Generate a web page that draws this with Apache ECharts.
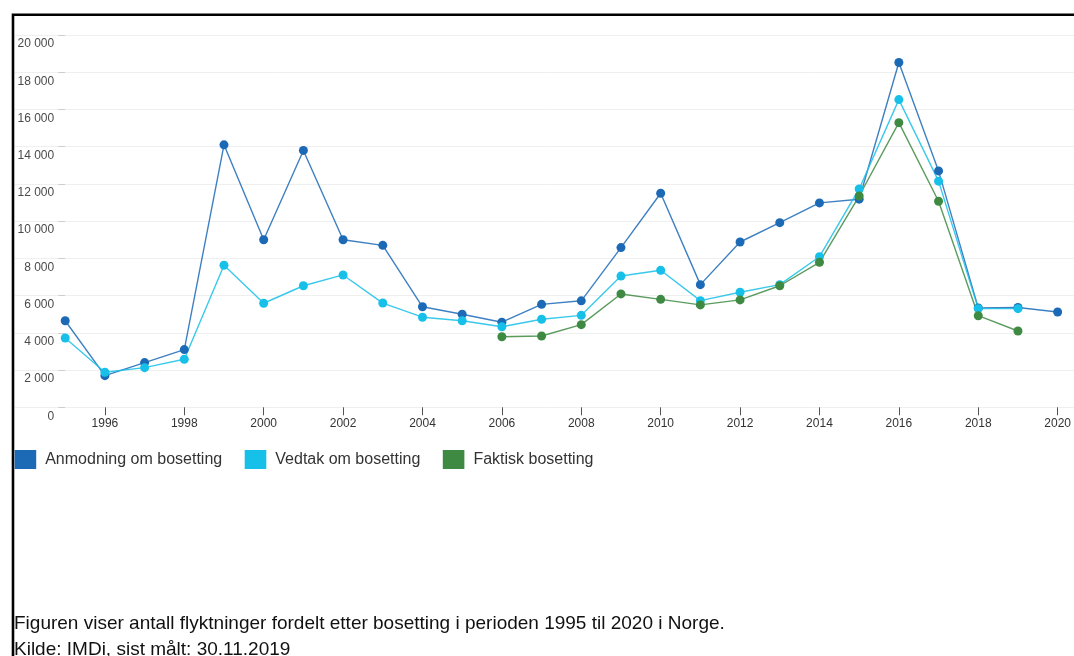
<!DOCTYPE html>
<html>
<head>
<meta charset="utf-8">
<script src="https://cdn.jsdelivr.net/npm/echarts@6/dist/echarts.min.js"></script>
<style>
  html, body { margin: 0; padding: 0; background: #fff; }
  #chart { width: 1074px; height: 656px; }
</style>
</head>
<body>
<div id="chart"></div>
<script>
// Årstall (x-akse)
const years = ['1995','1996','1997','1998','1999','2000','2001','2002','2003','2004','2005','2006','2007',
               '2008','2009','2010','2011','2012','2013','2014','2015','2016','2017','2018','2019','2020'];

// Antall personer per år
const anmodning = [4650, 1700, 2400, 3100, 14100, 9000, 13800, 9000, 8700, 5400, 5000, 4570, 5530,
                   5720, 8580, 11500, 6590, 8880, 9920, 10980, 11180, 18520, 12700, 5340, 5360, 5120];
const vedtak    = [3720, 1880, 2130, 2580, 7630, 5590, 6530, 7110, 5600, 4840, 4650, 4330, 4730,
                   4940, 7050, 7360, 5730, 6180, 6590, 8090, 11730, 16530, 12150, 5300, 5300, null];
const faktisk   = [null, null, null, null, null, null, null, null, null, null, null, 3790, 3830,
                   4440, 6090, 5800, 5500, 5770, 6530, 7790, 11350, 15290, 11070, 4920, 4100, null];

const seriesNames = ['Anmodning om bosetting', 'Vedtak om bosetting', 'Faktisk bosetting'];
const seriesColors = ['#1c6ab6', '#17c0e8', '#3e8a42'];

const yTicks = { min: 0, max: 20000, interval: 2000 };

const chart = echarts.init(document.getElementById('chart'), null, { renderer: 'canvas' });

function fmtThousands(v) {
  return String(v).replace(/\B(?=(\d{3})+(?!\d))/g, ' ');
}

function lineSeries(name, data, color) {
  return {
    name: name,
    type: 'line',
    xAxisIndex: 0,
    yAxisIndex: 0,
    data: data,
    symbol: 'circle',
    symbolSize: 9,
    showSymbol: true,
    connectNulls: false,
    itemStyle: { color: color },
    lineStyle: { color: color, width: 1.4, opacity: 0.85 },
    emphasis: { disabled: true },
    animation: false
  };
}

const option = {
  backgroundColor: '#ffffff',
  animation: false,
  textStyle: { fontFamily: 'Liberation Sans, Arial, sans-serif' },
  grid: [
    // plot area
    { left: 65.2, right: 13.7, top: 35, bottom: 248.7, containLabel: false },
    // wide band carrying the horizontal guide lines
    { left: 15, right: 0, top: 35, bottom: 248.7, containLabel: false }
  ],
  xAxis: [
    {
      gridIndex: 0,
      type: 'category',
      data: years,
      boundaryGap: false,
      axisLine: { show: false },
      axisTick: {
        show: true,
        length: 8,
        interval: (i) => i % 2 === 1,
        lineStyle: { color: '#555', width: 1 }
      },
      axisLabel: {
        interval: (i) => i % 2 === 1,
        color: '#333',
        fontSize: 12,
        margin: 10,
        fontFamily: 'Liberation Sans, Arial, sans-serif'
      },
      splitLine: { show: false }
    },
    {
      gridIndex: 1,
      type: 'value',
      show: false,
      min: 0,
      max: 1
    }
  ],
  yAxis: [
    {
      gridIndex: 0,
      type: 'value',
      min: yTicks.min,
      max: yTicks.max,
      interval: yTicks.interval,
      axisLine: { show: false },
      axisTick: { show: true, length: 7, lineStyle: { color: '#cfcfcf', width: 1 } },
      axisLabel: {
        color: '#4a4a4a',
        fontSize: 12,
        margin: 11,
        verticalAlign: 'top',
        padding: [3, 0, 0, 0],
        formatter: fmtThousands,
        fontFamily: 'Liberation Sans, Arial, sans-serif'
      },
      splitLine: { show: false }
    },
    {
      gridIndex: 1,
      type: 'value',
      min: yTicks.min,
      max: yTicks.max,
      interval: yTicks.interval,
      axisLine: { show: false },
      axisTick: { show: false },
      axisLabel: { show: false },
      splitLine: { show: true, lineStyle: { color: '#efefef', width: 1 } }
    }
  ],
  legend: {
    left: 14.6,
    top: 450,
    padding: 0,
    orient: 'horizontal',
    icon: 'rect',
    itemWidth: 21.6,
    itemHeight: 19,
    itemGap: 22.5,
    selectedMode: false,
    data: seriesNames.map((n, i) => ({ name: n, itemStyle: { color: seriesColors[i] } })),
    textStyle: {
      color: '#333',
      fontSize: 16,
      padding: [0, 0, 0, 4],
      fontFamily: 'Liberation Sans, Arial, sans-serif'
    }
  },
  graphic: [
    {
      type: 'polyline',
      silent: true,
      shape: { points: [[13, 660], [13, 14.7], [1080, 14.7]] },
      style: { stroke: '#000', lineWidth: 2.6, fill: null }
    },
    {
      type: 'text',
      left: 14,
      top: 614,
      silent: true,
      style: {
        text: 'Figuren viser antall flyktninger fordelt etter bosetting i perioden 1995 til 2020 i Norge.',
        fill: '#111',
        font: '19px "Liberation Sans", Arial, sans-serif'
      }
    },
    {
      type: 'text',
      left: 14,
      top: 640,
      silent: true,
      style: {
        text: 'Kilde: IMDi, sist målt: 30.11.2019',
        fill: '#111',
        font: '19px "Liberation Sans", Arial, sans-serif'
      }
    }
  ],
  series: [
    lineSeries(seriesNames[0], anmodning, seriesColors[0]),
    lineSeries(seriesNames[1], vedtak, seriesColors[1]),
    lineSeries(seriesNames[2], faktisk, seriesColors[2])
  ]
};

chart.setOption(option);
</script>
</body>
</html>
